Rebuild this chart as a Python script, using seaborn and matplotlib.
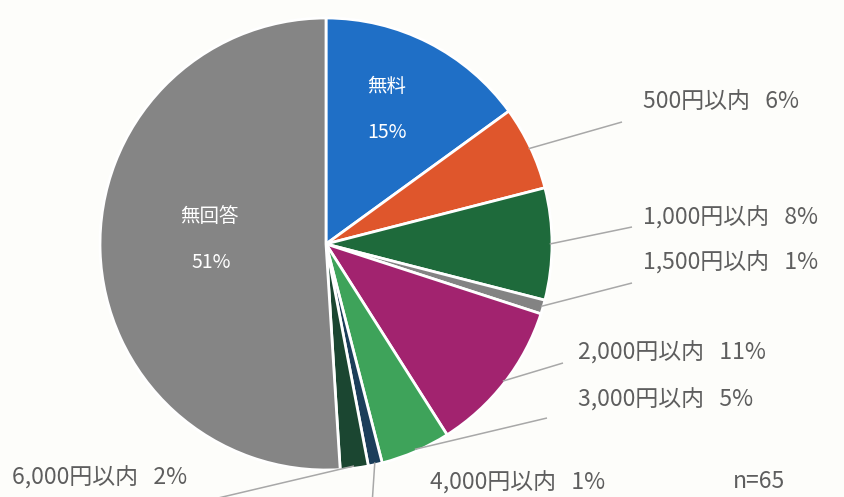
import numpy as np
import matplotlib
matplotlib.use("Agg")
import matplotlib.pyplot as plt
import seaborn as sns

# Survey answers: price range and share (%)
categories = ["無料", "500円以内", "1,000円以内", "1,500円以内", "2,000円以内",
              "3,000円以内", "4,000円以内", "6,000円以内", "無回答"]
shares = [15, 6, 8, 1, 11, 5, 1, 2, 51]
sample_note = "n=65"

slice_colors = ["#1F6FC6", "#DF562C", "#1E6A3B", "#838383", "#A2236F",
                "#3EA35A", "#1C3E5A", "#1B4631", "#858585"]

sns.set_theme(style="white")
plt.rcParams["font.family"] = ["Noto Sans CJK JP", "DejaVu Sans"]

W, H = 845, 497
CX, CY, R = 326, 244, 226  # pie centre / radius in pixels

fig = plt.figure(figsize=(W / 100, H / 100), dpi=100, facecolor="#FDFDFA")
ax = fig.add_axes([0, 0, 1, 1])
ax.set_facecolor("#FDFDFA")


def px(x, y):
    """pixel position (from top-left) -> data coordinates (pie radius = 1)"""
    return (x - CX) / R, (CY - y) / R


x0, y1 = px(0, 0)
x1, y0 = px(W, H)

wedges, _ = ax.pie(shares, colors=slice_colors, startangle=90, counterclock=False,
                   radius=1, center=(0, 0), frame=False,
                   wedgeprops=dict(edgecolor="white", linewidth=2))
ax.set_xlim(x0, x1)
ax.set_ylim(y0, y1)
ax.set_aspect("auto")
ax.axis("off")


def mid_point(w, r):
    ang = np.deg2rad((w.theta1 + w.theta2) / 2)
    return r * np.cos(ang), r * np.sin(ang)


# labels inside the two largest slices: (name centre, percent centre) in pixels
inside = {0: ((387, 87), (387, 133)), 8: ((209, 217), (211, 262))}
for i, (p_name, p_pct) in inside.items():
    ax.text(*px(*p_name), categories[i], color="white", fontsize=14,
            ha="center", va="center")
    ax.text(*px(*p_pct), f"{shares[i]}%", color="white", fontsize=14,
            ha="center", va="center")

# outside labels: (leader line end, text anchor) in pixels
outside = {
    1: ((622, 122), (643, 102)),
    2: ((632, 227), (643, 218)),
    3: ((632, 283), (643, 263)),
    4: ((563, 363), (578, 353)),
    5: ((547, 418), (578, 400)),
    6: ((372, 505), (430, 483)),
    7: ((180, 507), (12, 478)),
}
line_col = "#A8A8A8"
text_col = "#5E5E5E"
for i, (end, txt) in outside.items():
    sx, sy = mid_point(wedges[i], 0.99)
    ex, ey = px(*end)
    ax.plot([sx, ex], [sy, ey], color=line_col, linewidth=1.1,
            solid_capstyle="butt")
    tx, ty = px(*txt)
    ax.text(tx, ty, f"{categories[i]}   {shares[i]}%", color=text_col,
            fontsize=16.5, ha="left", va="center")

nx, ny = px(733, 482)
ax.text(nx, ny, sample_note, color=text_col, fontsize=16.5, ha="left", va="center")

fig.savefig("out.png", dpi=100, facecolor=fig.get_facecolor())
